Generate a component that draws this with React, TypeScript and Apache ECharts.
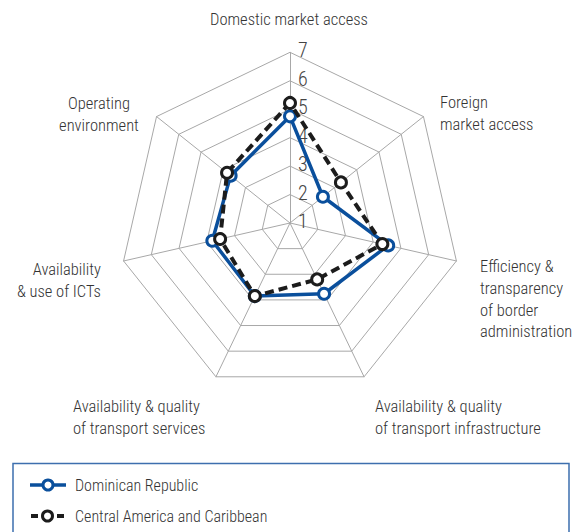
import React, { useEffect, useRef } from "react";
import * as echarts from "echarts";

// clockwise from top
const indicatorNames = [
  "Domestic market access",
  "Foreign market access",
  "Efficiency & transparency of border administration",
  "Availability & quality of transport infrastructure",
  "Availability & quality of transport services",
  "Availability & use of ICTs",
  "Operating environment",
];
const nameLabels = [
  "Domestic market access",
  "Foreign\nmarket access",
  "Efficiency &\ntransparency\nof border\nadministration",
  "Availability & quality\nof transport infrastructure",
  "Availability & quality\nof transport services",
  "Availability\n& use of ICTs",
  "Operating\nenvironment",
];
const drValues = [4.75, 2.48, 4.54, 3.76, 3.85, 3.8, 3.67];
const cacValues = [5.22, 3.29, 4.33, 3.2, 3.85, 3.52, 3.83];
const seriesNames = ["Dominican Republic", "Central America and Caribbean"];
const tickLabels = ["1", "2", "3", "4", "5", "6", "7"];

const FONT = "'Liberation Sans Narrow', 'Roboto Condensed', Roboto, sans-serif";
const BLUE = "#0a4f9c";
const BLACK = "#1c1c1c";
const TXT = "#333";

// ECharts radar runs counter-clockwise; reorder so the picture runs clockwise
const order = [0, 6, 5, 4, 3, 2, 1];
const reorder = (arr: number[]) => order.map((i) => arr[i]);

export default function App() {
  const ref = useRef<HTMLDivElement>(null);
  useEffect(() => {
    if (!ref.current) return;
    const chart = echarts.init(ref.current, null, { renderer: "svg" });
    const nameStyle = { fontFamily: FONT, fontSize: 16.5, fontWeight: 300, fill: TXT, lineHeight: 21.7 };
    const namePos: any[] = [
      { x: 289, y: 19, align: "center", vAlign: "middle" },
      { x: 440, y: 92, align: "left", vAlign: "top" },
      { x: 480, y: 256, align: "left", vAlign: "top" },
      { x: 375, y: 396, align: "left", vAlign: "top" },
      { x: 73, y: 396, align: "left", vAlign: "top" },
      { x: 101, y: 259, align: "right", vAlign: "top" },
      { x: 99, y: 93, align: "center", vAlign: "top" },
    ];
    const graphic: any[] = nameLabels.map((t, i) => ({
      type: "text",
      x: namePos[i].x,
      y: namePos[i].y,
      style: {
        ...nameStyle,
        text: t,
        align: namePos[i].align,
        verticalAlign: namePos[i].vAlign,
      },
    }));
    graphic.push({
      type: "rect",
      shape: { x: 13, y: 463.5, width: 556, height: 90 },
      style: { fill: "#fff", stroke: "#3d6fae", lineWidth: 1.5 },
    });
    const legText = { fontFamily: FONT, fontSize: 16, fontWeight: 300, fill: TXT, verticalAlign: "middle" };
    graphic.push(
      { type: "line", shape: { x1: 30, y1: 485, x2: 66, y2: 485 }, style: { stroke: BLUE, lineWidth: 3.5 } },
      { type: "circle", shape: { cx: 48, cy: 485, r: 5 }, style: { fill: "#fff", stroke: BLUE, lineWidth: 3 } },
      { type: "text", x: 75, y: 485, style: { ...legText, text: seriesNames[0] } },
      { type: "line", shape: { x1: 31, y1: 516, x2: 38, y2: 516 }, style: { stroke: BLACK, lineWidth: 4 } },
      { type: "line", shape: { x1: 57, y1: 516, x2: 64, y2: 516 }, style: { stroke: BLACK, lineWidth: 4 } },
      { type: "circle", shape: { cx: 47.5, cy: 516, r: 5 }, style: { fill: "#fff", stroke: BLACK, lineWidth: 3 } },
      { type: "text", x: 75, y: 516, style: { ...legText, text: seriesNames[1] } }
    );

    chart.setOption({
      animation: false,
      textStyle: { fontFamily: FONT },
      radar: {
        center: [290, 223],
        radius: 170.7,
        startAngle: 90,
        shape: "polygon",
        splitNumber: 6,
        indicator: order.map((idx, i) => ({
          name: indicatorNames[idx],
          min: 1,
          max: 7,
          axisLabel:
            i === 0
              ? {
                  show: true,
                  fontFamily: FONT,
                  fontSize: 20,
                  fontWeight: 300,
                  color: "#444",
                  margin: -8,
                  align: "left",
                  verticalAlign: "bottom",
                  padding: [0, 0, -8, 0],
                  formatter: (v: number) => tickLabels[Math.round(v) - 1] ?? "",
                }
              : { show: false },
        })),
        axisName: { show: false },
        axisLine: { lineStyle: { color: "#a8a8a8", width: 1 } },
        splitLine: { lineStyle: { color: "#a8a8a8", width: 1 } },
        splitArea: { show: false },
        axisTick: { show: false },
      },
      series: [
        {
          type: "radar",
          name: seriesNames[0],
          symbol: "circle",
          symbolSize: 11,
          lineStyle: { color: BLUE, width: 3.5 },
          itemStyle: { color: "#fff", borderColor: BLUE, borderWidth: 3 },
          data: [{ value: reorder(drValues), name: seriesNames[0] }],
          z: 2,
        },
        {
          type: "radar",
          name: seriesNames[1],
          symbol: "circle",
          symbolSize: 11,
          lineStyle: { color: BLACK, width: 4, type: [9, 5] },
          itemStyle: { color: "#fff", borderColor: BLACK, borderWidth: 3 },
          data: [{ value: reorder(cacValues), name: seriesNames[1] }],
          z: 3,
        },
      ],
      graphic,
    });
    return () => chart.dispose();
  }, []);
  return (
    <div
      ref={ref}
      style={{ position: "fixed", left: 0, top: 0, width: 577, height: 532, background: "#fff" }}
    />
  );
}
